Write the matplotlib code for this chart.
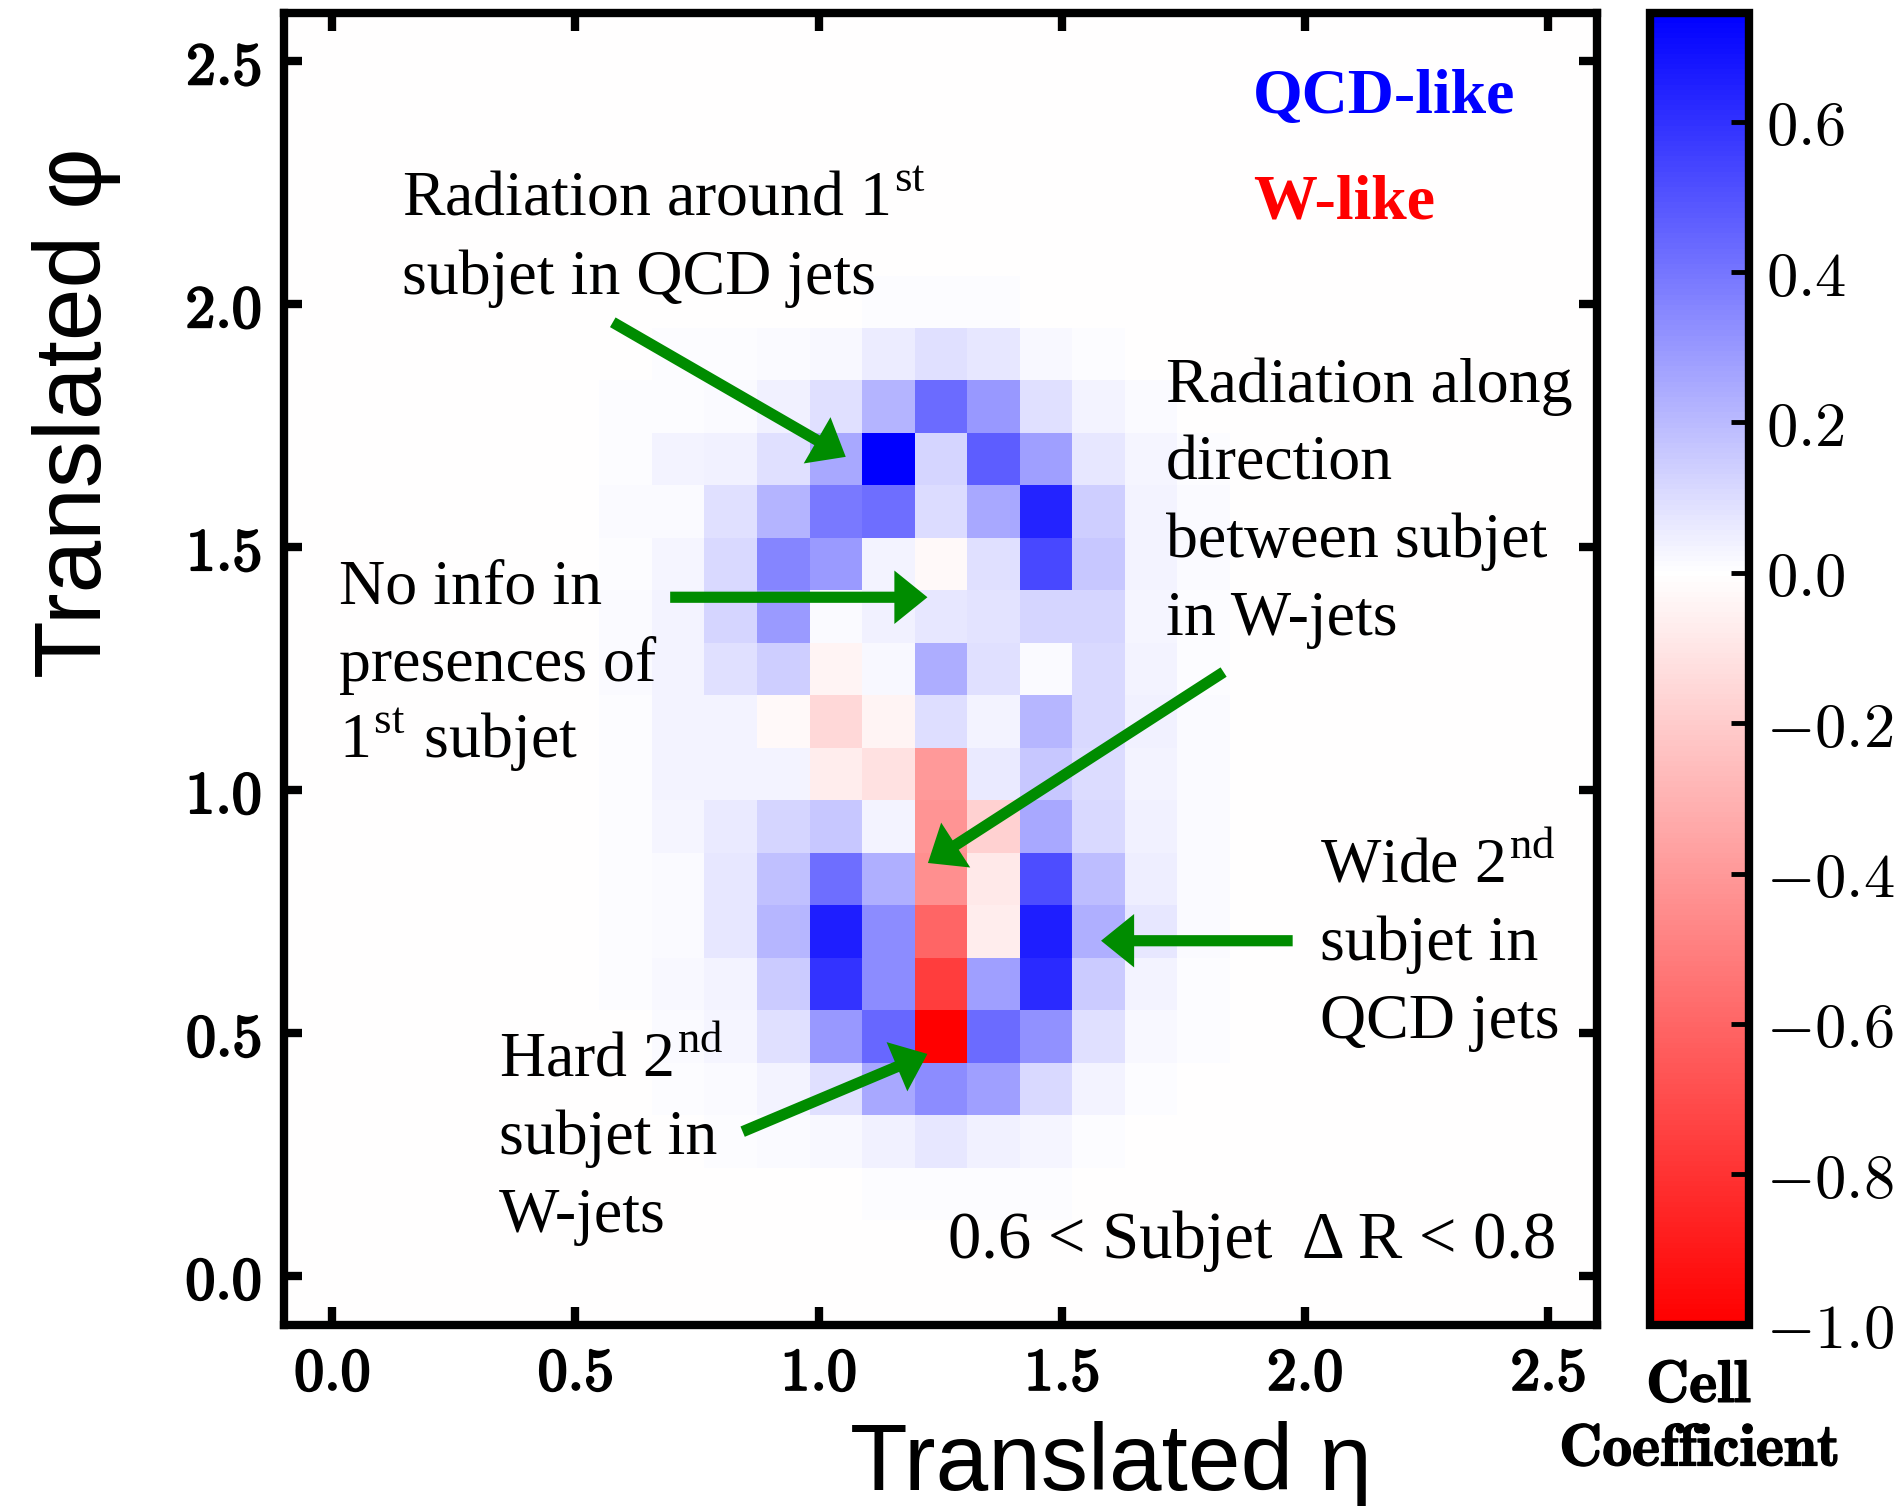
import numpy as np
import matplotlib
matplotlib.use("Agg")
import matplotlib.pyplot as plt
import matplotlib.patheffects as pe
from matplotlib.colors import LinearSegmentedColormap, Normalize

plt.rcParams["mathtext.fontset"] = "cm"

# jet image: 25 x 25 cells over translated (eta, phi)
N_BINS = 25
ETA_LIM = (-0.1, 2.6)
PHI_LIM = (-0.1, 2.6)

# populated block of cell coefficients, top phi row first
ETA_COL0 = 6      # first eta bin in the block
PHI_ROW_TOP = 19  # phi bin of the first row
coef_block = [
    [0.000, 0.000, 0.000, 0.000, 0.002, 0.003, 0.003, 0.003, 0.002, 0.000, 0.000, 0.000],
    [0.000, 0.003, 0.005, 0.010, 0.020, 0.050, 0.085, 0.070, 0.020, 0.005, 0.000, 0.000],
    [0.003, 0.005, 0.010, 0.040, 0.090, 0.220, 0.430, 0.300, 0.090, 0.035, 0.010, 0.000],
    [0.005, 0.030, 0.040, 0.090, 0.250, 0.745, 0.120, 0.470, 0.280, 0.070, 0.025, 0.005],
    [0.010, 0.010, 0.090, 0.220, 0.390, 0.420, 0.100, 0.250, 0.640, 0.140, 0.030, 0.010],
    [0.005, 0.025, 0.110, 0.350, 0.290, 0.030, -0.025, 0.090, 0.530, 0.160, 0.030, 0.010],
    [0.010, 0.030, 0.120, 0.290, 0.010, 0.040, 0.070, 0.080, 0.120, 0.120, 0.025, 0.005],
    [0.010, 0.035, 0.090, 0.140, -0.040, 0.020, 0.240, 0.090, 0.010, 0.110, 0.030, 0.005],
    [0.005, 0.030, 0.030, -0.020, -0.150, -0.040, 0.095, 0.030, 0.210, 0.110, 0.040, 0.010],
    [0.005, 0.030, 0.035, 0.030, -0.070, -0.120, -0.400, 0.060, 0.160, 0.100, 0.035, 0.010],
    [0.005, 0.025, 0.060, 0.120, 0.160, 0.035, -0.420, -0.180, 0.250, 0.110, 0.040, 0.010],
    [0.005, 0.015, 0.065, 0.180, 0.420, 0.230, -0.440, -0.080, 0.520, 0.190, 0.045, 0.010],
    [0.005, 0.015, 0.065, 0.210, 0.650, 0.335, -0.600, -0.070, 0.650, 0.230, 0.070, 0.010],
    [0.005, 0.020, 0.035, 0.150, 0.590, 0.330, -0.760, 0.280, 0.620, 0.150, 0.030, 0.005],
    [0.000, 0.010, 0.025, 0.085, 0.300, 0.440, -1.000, 0.430, 0.320, 0.085, 0.020, 0.005],
    [0.000, 0.005, 0.010, 0.030, 0.090, 0.250, 0.330, 0.280, 0.110, 0.030, 0.005, 0.000],
    [0.000, 0.000, 0.005, 0.010, 0.020, 0.040, 0.070, 0.040, 0.025, 0.005, 0.000, 0.000],
    [0.000, 0.000, 0.000, 0.000, 0.000, 0.005, 0.008, 0.005, 0.005, 0.000, 0.000, 0.000],
]

axis_ticks = [0.0, 0.5, 1.0, 1.5, 2.0, 2.5]
cbar_ticks = [-1.0, -0.8, -0.6, -0.4, -0.2, 0.0, 0.2, 0.4, 0.6]

# annotations: (lines, left x, first baseline y)
notes = [
    (["Radiation around 1$^{\\mathregular{st}}$", "subjet in QCD jets"], 0.143, 2.181),
    (["No info in", "presences of", "1$^{\\mathregular{st}}$ subjet"], 0.013, 1.385),
    (["Radiation along", "direction", "between subjet", "in W-jets"], 1.714, 1.799),
    (["Wide 2$^{\\mathregular{nd}}$", "subjet in", "QCD jets"], 2.032, 0.810),
    (["Hard 2$^{\\mathregular{nd}}$", "subjet in", "W-jets"], 0.342, 0.410),
]
LINE_STEP = 0.16

# arrows: (tail, tip)
arrows = [
    ((0.577, 1.963), (1.056, 1.686)),
    ((0.695, 1.397), (1.224, 1.397)),
    ((1.833, 1.243), (1.225, 0.850)),
    ((1.975, 0.690), (1.581, 0.690)),
    ((0.844, 0.297), (1.224, 0.457)),
]

grid = np.zeros((N_BINS, N_BINS))
for i, row in enumerate(coef_block):
    grid[PHI_ROW_TOP - i, ETA_COL0:ETA_COL0 + len(row)] = row

vmin, vmax = grid.min(), grid.max()
white_at = -vmin / (vmax - vmin)
cmap = LinearSegmentedColormap.from_list(
    "w_qcd", [(0.0, (1, 0, 0)), (white_at, (1, 1, 1)), (1.0, (0, 0, 1))]
)

fig = plt.figure(figsize=(19.03, 15.06), dpi=100)
ax = fig.add_axes([0.149, 0.1205, 0.690, 0.871])

im = ax.imshow(
    grid,
    origin="lower",
    extent=[ETA_LIM[0], ETA_LIM[1], PHI_LIM[0], PHI_LIM[1]],
    cmap=cmap,
    norm=Normalize(vmin=vmin, vmax=vmax),
    interpolation="nearest",
    aspect="auto",
)
ax.set_xlim(*ETA_LIM)
ax.set_ylim(*PHI_LIM)

for sp in ax.spines.values():
    sp.set_linewidth(6)
ax.set_xticks(axis_ticks)
ax.set_yticks(axis_ticks)
ax.set_xticklabels([r"$\mathbf{%.1f}$" % t for t in axis_ticks])
ax.set_yticklabels([r"$\mathbf{%.1f}$" % t for t in axis_ticks])
ax.tick_params(direction="in", top=True, right=True, length=13, width=6,
               labelsize=43)
ax.tick_params(axis="x", pad=14)
ax.tick_params(axis="y", pad=16)
# heavier strokes for the bold tick digits
heavy = [pe.withStroke(linewidth=1.6, foreground="black")]
for lab in ax.get_xticklabels() + ax.get_yticklabels():
    lab.set_path_effects(heavy)

ax.set_xlabel("Translated η", fontsize=68, family="Liberation Sans", va="baseline")
ax.xaxis.set_label_coords(0.63, -0.126)
ax.set_ylabel("Translated φ", fontsize=68, family="Liberation Sans", va="baseline")
ax.yaxis.set_label_coords(-0.139, 0.695)

green = "#008c00"
for (x0, y0), (x1, y1) in arrows:
    ax.arrow(x0, y0, x1 - x0, y1 - y0, width=0.023, head_width=0.11,
             head_length=0.068, length_includes_head=True, color=green,
             linewidth=0, zorder=4)

for lines, x, y in notes:
    for k, line in enumerate(lines):
        ax.text(x, y - k * LINE_STEP, line, fontsize=46, family="Liberation Serif",
                ha="left", va="baseline", zorder=5)

ax.text(2.517, 0.036, "0.6 < Subjet  Δ R < 0.8", fontsize=48,
        family="Liberation Serif", ha="right", va="baseline")
ax.text(1.893, 2.393, "QCD-like", fontsize=46, family="Liberation Serif",
        fontweight="bold", color="blue", ha="left", va="baseline")
ax.text(1.893, 2.176, "W-like", fontsize=46, family="Liberation Serif",
        fontweight="bold", color="red", ha="left", va="baseline")

cax = fig.add_axes([0.8668, 0.1205, 0.0523, 0.871])
cbar = fig.colorbar(im, cax=cax, ticks=cbar_ticks)
cbar.outline.set_linewidth(6)
cbar.ax.set_yticklabels([r"$%.1f$" % t for t in cbar_ticks])
cbar.ax.tick_params(direction="in", length=13, width=3.5, labelsize=45, pad=12)

for text, yb in [(r"$\mathbf{Cell}$", 1402), (r"$\mathbf{Coefficient}$", 1466)]:
    fig.text(1699 / 1903, 1 - yb / 1506, text, fontsize=43,
             ha="center", va="baseline",
             path_effects=[pe.withStroke(linewidth=1.0, foreground="black")])

fig.savefig("out.png", dpi=100)
